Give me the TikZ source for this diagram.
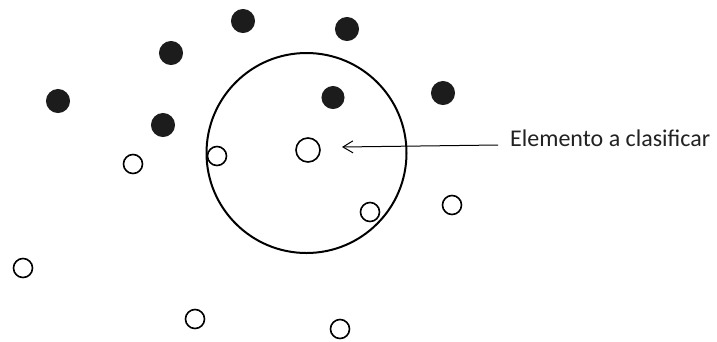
\documentclass[tikz,border=0pt]{standalone}
\usepackage{fontspec}
\setmainfont{Carlito}
\usetikzlibrary{arrows.meta}
\definecolor{dotfill}{HTML}{1C1C1C}
\definecolor{txt}{HTML}{222222}
\tikzset{
  fulldot/.style={circle, draw=dotfill, fill=dotfill, line width=1pt, minimum size=23pt, inner sep=0pt},
  opendot/.style={circle, draw=black, fill=white, line width=1.6pt, minimum size=19pt, inner sep=0pt},
  bigring/.style={circle, draw=black, line width=2pt, minimum size=200pt, inner sep=0pt},
  pointer/.style={line width=1pt, -{Straight Barb[length=10pt,width=12pt,line width=1pt]}},
  labeltext/.style={font=\fontsize{24}{28}\selectfont, text=txt, inner sep=0pt, anchor=base west}
}
\begin{document}
\begin{tikzpicture}[x=1pt,y=-1pt]
\useasboundingbox[fill=white] (0,0) rectangle (717,341);
% big neighbourhood circle
\node[bigring] (ring) at (306.5,153) {};
% filled points
\node[fulldot] (f1) at (58,101) {};
\node[fulldot] (f2) at (171,53) {};
\node[fulldot] (f3) at (243,21) {};
\node[fulldot] (f4) at (347,29) {};
\node[fulldot] (f5) at (163,125) {};
\node[fulldot, minimum size=22pt] (f6) at (333,97.5) {};
\node[fulldot] (f7) at (443,93) {};
% open points
\node[opendot] (o1) at (133,164) {};
\node[opendot] (o2) at (217,156) {};
\node[opendot, minimum size=24pt] (o3) at (308,150) {};
\node[opendot] (o4) at (370,212) {};
\node[opendot] (o5) at (452,205) {};
\node[opendot] (o6) at (23,268) {};
\node[opendot] (o7) at (195,319) {};
\node[opendot] (o8) at (340,329) {};
% label and arrow
\node[labeltext] (lbl) at (510,146) {Elemento a clasificar};
\coordinate (tip) at (342,147);
\draw[pointer] ([xshift=-12pt,yshift=1pt]lbl.base west) -- (tip);
\end{tikzpicture}
\end{document}
